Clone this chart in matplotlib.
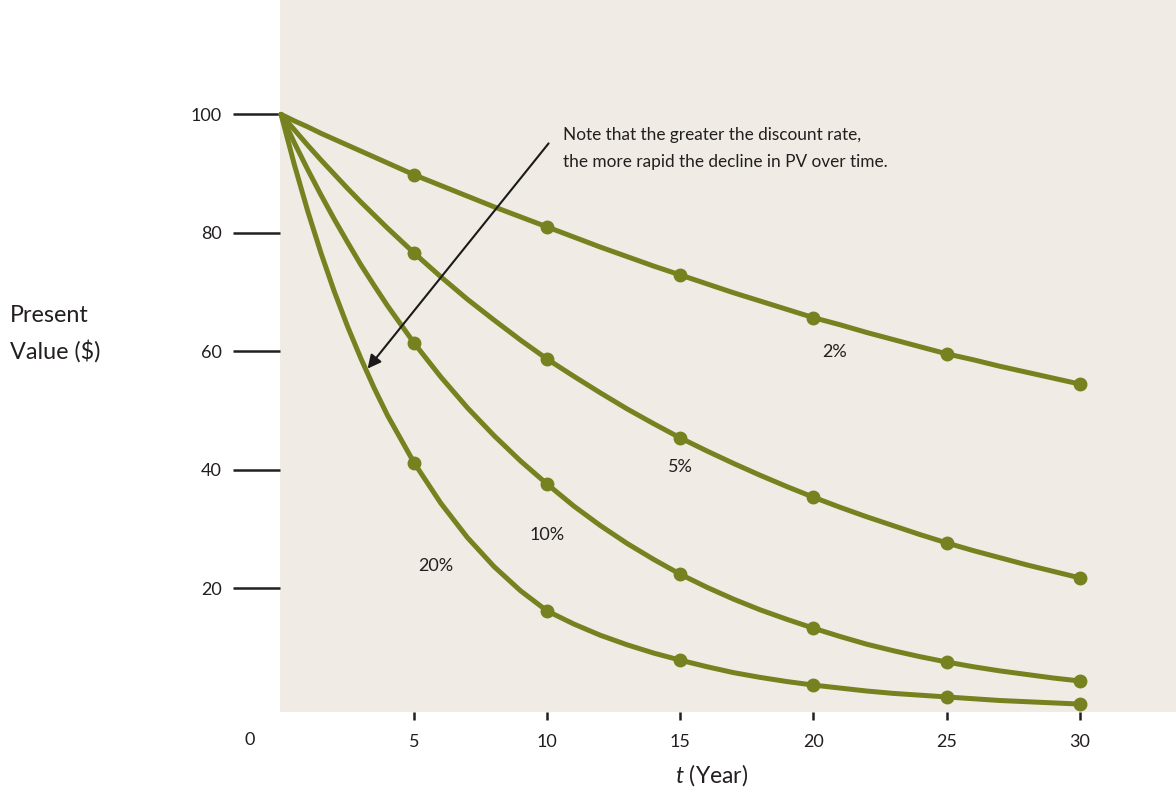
import matplotlib
matplotlib.use('Agg')
import matplotlib.pyplot as plt

years = [0, 0.5, 1, 1.5, 2, 2.5, 3, 3.5, 4, 5, 6, 7, 8, 9, 10, 11, 12, 13, 14, 15,
         16, 17, 18, 19, 20, 21, 22, 23, 24, 25, 26, 27, 28, 29, 30]
marker_years = [5, 10, 15, 20, 25, 30]

pv_2 = [100, 98.9, 97.9, 96.8, 95.8, 94.8, 93.8, 92.8, 91.8, 89.8, 88.0, 86.2,
        84.4, 82.7, 81.0, 79.3, 77.6, 76.0, 74.4, 72.9, 71.4, 69.9, 68.5, 67.1,
        65.7, 64.5, 63.2, 62.0, 60.8, 59.6, 58.6, 57.5, 56.5, 55.5, 54.5]
pv_5 = [100, 97.4, 94.8, 92.3, 89.9, 87.5, 85.2, 83.0, 80.8, 76.6, 72.6, 68.8,
        65.3, 61.9, 58.7, 55.8, 53.0, 50.3, 47.8, 45.4, 43.2, 41.1, 39.1, 37.2,
        35.4, 33.7, 32.1, 30.6, 29.1, 27.7, 26.4, 25.2, 24.0, 22.9, 21.8]
pv_10 = [100, 95.2, 90.7, 86.4, 82.3, 78.4, 74.6, 71.1, 67.7, 61.4, 55.7, 50.5,
         45.8, 41.5, 37.6, 33.9, 30.6, 27.6, 24.9, 22.4, 20.2, 18.2, 16.4, 14.8,
         13.3, 11.9, 10.6, 9.5, 8.5, 7.6, 6.8, 6.1, 5.5, 4.9, 4.4]
pv_20 = [100, 91.5, 83.7, 76.6, 70.1, 64.2, 58.8, 53.8, 49.2, 41.2, 34.4, 28.6,
         23.7, 19.6, 16.2, 14.0, 12.1, 10.5, 9.1, 7.9, 6.8, 5.8, 5.0, 4.3,
         3.7, 3.2, 2.7, 2.3, 2.0, 1.7, 1.4, 1.1, 0.9, 0.7, 0.5]

curve_labels = ['2%', '5%', '10%', '20%']
label_pos = [(20.8, 59.9), (15.0, 40.5), (10.0, 29.0), (5.8, 23.8)]

y_ticks = [20, 40, 60, 80, 100]
x_ticks = [5, 10, 15, 20, 25, 30]

line_color = '#76821f'
bg_color = '#f0ece5'
text_color = '#231f20'

plt.rcParams['font.family'] = ['Lato', 'DejaVu Sans']
plt.rcParams['mathtext.fontset'] = 'custom'
plt.rcParams['mathtext.it'] = 'Lato:italic'
plt.rcParams['mathtext.rm'] = 'Lato'

fig = plt.figure(figsize=(11.76, 7.92), dpi=100)
ax = fig.add_axes([280 / 1176, 80 / 792, 896 / 1176, 712 / 792])
ax.set_facecolor(bg_color)
for s in ax.spines.values():
    s.set_visible(False)

marker_idx = [years.index(y) for y in marker_years]
for vals in [pv_2, pv_5, pv_10, pv_20]:
    ax.plot(years, vals, color=line_color, lw=3.6, marker='o', ms=9,
            markevery=marker_idx, solid_joinstyle='round', solid_capstyle='round',
            clip_on=False)

for lab, (x, y) in zip(curve_labels, label_pos):
    ax.text(x, y, lab, fontsize=13, color=text_color, ha='center', va='center')

ax.set_xlim(-0.04, 33.62)
ax.set_ylim(-0.84, 119.3)

ax.set_yticks(y_ticks)
ax.set_yticklabels([str(v) for v in y_ticks], fontsize=13, color=text_color)
ax.tick_params(axis='y', length=34, width=1.8, color=text_color, pad=8)

ax.set_xticks(x_ticks)
ax.set_xticklabels([str(v) for v in x_ticks], fontsize=13, color=text_color)
ax.tick_params(axis='x', length=6, width=1.8, color=text_color, pad=10)

fig.text(250 / 1176, 1 - 740 / 792, '0', fontsize=13, color=text_color,
         ha='center', va='center')
fig.text(10 / 1176, 1 - 334 / 792, 'Present\nValue ($)', fontsize=16.8,
         color=text_color, ha='left', va='center', linespacing=1.72)
fig.text(712 / 1176, 1 - 775 / 792, r'$\mathit{t}$ (Year)', fontsize=16.5,
         color=text_color, ha='center', va='center')

ax.text(10.6, 94.2, 'Note that the greater the discount rate,\n'
        'the more rapid the decline in PV over time.',
        fontsize=12.4, color=text_color, ha='left', va='center', linespacing=1.85)
ax.annotate('', xy=(3.25, 57.1), xytext=(10.05, 95.1),
            arrowprops=dict(arrowstyle='-|>', color='#1a1a1a', lw=1.5,
                            mutation_scale=20, shrinkA=0, shrinkB=0))

fig.savefig('out.png', dpi=100)
